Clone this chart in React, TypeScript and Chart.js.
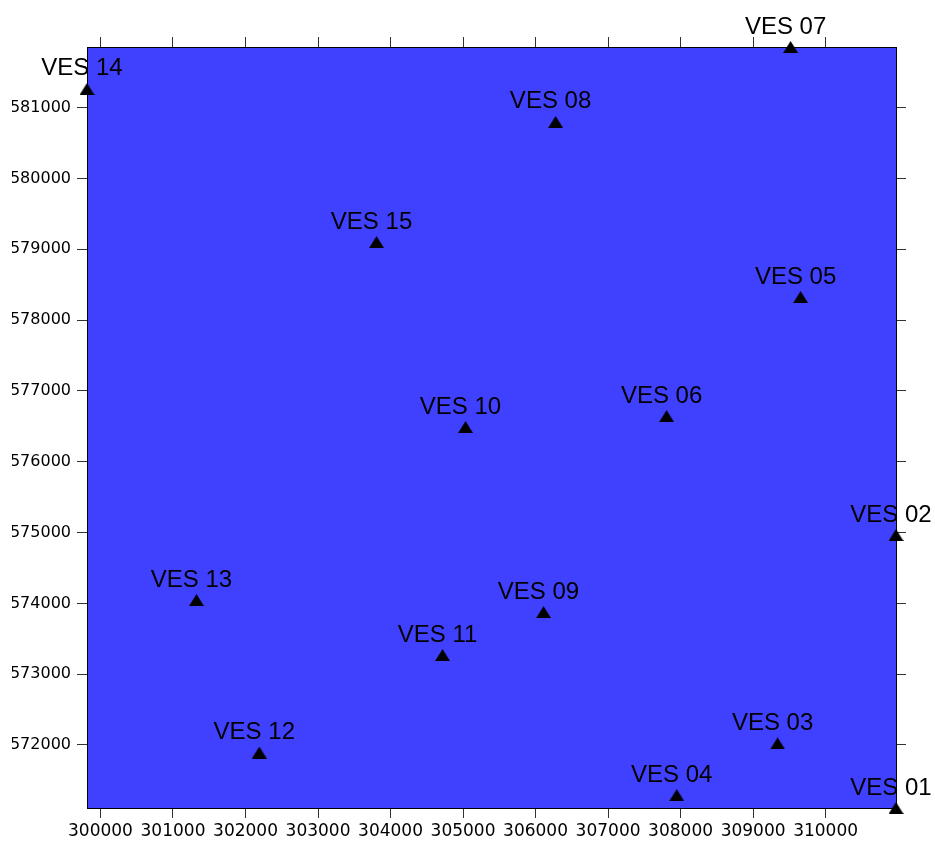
import React, { useEffect, useRef } from "react";
import { Chart, registerables } from "chart.js";

Chart.register(...registerables);

const siteNames = [
  "VES 01", "VES 02", "VES 03", "VES 04", "VES 05",
  "VES 06", "VES 07", "VES 08", "VES 09", "VES 10",
  "VES 11", "VES 12", "VES 13", "VES 14", "VES 15",
];
const eastings = [
  310971, 310971, 309338, 307947, 309655,
  307807, 309517, 306276, 306110, 305034,
  304717, 302190, 301324, 299814, 303807,
];
const northings = [
  571110, 574965, 572022, 571292, 578326,
  576645, 581857, 580798, 573877, 576490,
  573270, 571893, 574047, 581264, 579103,
];
const xRange = [299814, 310971];
const yRange = [571110, 581857];
const xTicks = [
  300000, 301000, 302000, 303000, 304000, 305000,
  306000, 307000, 308000, 309000, 310000,
];
const yTicks = [
  572000, 573000, 574000, 575000, 576000,
  577000, 578000, 579000, 580000, 581000,
];

function makeTriangle(): HTMLCanvasElement {
  const c = document.createElement("canvas");
  c.width = 15;
  c.height = 12;
  const g = c.getContext("2d")!;
  g.fillStyle = "#000";
  g.beginPath();
  g.moveTo(7.5, 0);
  g.lineTo(15, 12);
  g.lineTo(0, 12);
  g.closePath();
  g.fill();
  return c;
}

const bgPlugin = {
  id: "plotBg",
  beforeDraw(chart: any) {
    const { ctx, chartArea: a } = chart;
    ctx.save();
    ctx.fillStyle = "#4040ff";
    ctx.fillRect(a.left, a.top, a.right - a.left, a.bottom - a.top);
    ctx.restore();
  },
};

const labelPlugin = {
  id: "siteLabels",
  afterDatasetsDraw(chart: any) {
    const { ctx } = chart;
    const meta = chart.getDatasetMeta(0);
    ctx.save();
    ctx.fillStyle = "#000";
    ctx.font = "24px 'Liberation Sans', Arial, sans-serif";
    ctx.textAlign = "center";
    ctx.textBaseline = "alphabetic";
    meta.data.forEach((el: any, i: number) => {
      ctx.fillText(siteNames[i], el.x - 5, el.y - 13.5);
    });
    ctx.restore();
  },
};

export default function App() {
  const ref = useRef<HTMLCanvasElement | null>(null);
  useEffect(() => {
    if (!ref.current) return;
    const tri = makeTriangle();
    const gridOpts = {
      drawOnChartArea: false,
      drawTicks: true,
      tickLength: 10,
      tickColor: "#333",
      tickWidth: 1,
    };
    const borderOpts = { display: true, color: "#000", width: 1 };
    const fmt = (v: any) => String(v);
    const setTicks = (vals: number[]) => (s: any) => {
      s.ticks = vals.map((v) => ({ value: v }));
    };
    const chart = new Chart(ref.current, {
      type: "scatter",
      data: {
        datasets: [
          {
            data: eastings.map((x, i) => ({ x, y: northings[i] })),
            pointStyle: tri as any,
            pointRadius: 8,
            clip: false as any,
            backgroundColor: "#000",
            borderColor: "#000",
          },
        ],
      },
      options: {
        animation: false,
        responsive: false,
        events: [],
        layout: { padding: 0 },
        plugins: { legend: { display: false }, tooltip: { enabled: false } },
        scales: {
          x: {
            type: "linear",
            position: "bottom",
            min: xRange[0],
            max: xRange[1],
            afterBuildTicks: setTicks(xTicks),
            ticks: {
              autoSkip: false,
              maxRotation: 0,
              padding: 3,
              color: "#000",
              font: { family: "DejaVu Sans", size: 17 },
              callback: fmt,
            },
            grid: gridOpts,
            border: borderOpts,
            afterFit: (s: any) => {
              s.height = 34;
            },
          },
          x2: {
            type: "linear",
            position: "top",
            min: xRange[0],
            max: xRange[1],
            afterBuildTicks: setTicks(xTicks),
            ticks: { display: false },
            grid: gridOpts,
            border: borderOpts,
            afterFit: (s: any) => {
              s.height = 47;
            },
          },
          y: {
            type: "linear",
            position: "left",
            min: yRange[0],
            max: yRange[1],
            afterBuildTicks: setTicks(yTicks),
            ticks: {
              autoSkip: false,
              padding: 6,
              color: "#000",
              font: { family: "DejaVu Sans", size: 16 },
              callback: fmt,
            },
            grid: gridOpts,
            border: borderOpts,
            afterFit: (s: any) => {
              s.width = 75;
            },
          },
          y2: {
            type: "linear",
            position: "right",
            min: yRange[0],
            max: yRange[1],
            afterBuildTicks: setTicks(yTicks),
            ticks: { display: false },
            grid: gridOpts,
            border: borderOpts,
            afterFit: (s: any) => {
              s.width = 39;
            },
          },
        },
      } as any,
      plugins: [bgPlugin, labelPlugin],
    });
    return () => chart.destroy();
  }, []);

  return (
    <div style={{ position: "absolute", left: 12, top: 0, width: 923, height: 842, overflow: "hidden" }}>
      <canvas ref={ref} width={923} height={842} style={{ width: 923, height: 842, display: "block" }} />
    </div>
  );
}
